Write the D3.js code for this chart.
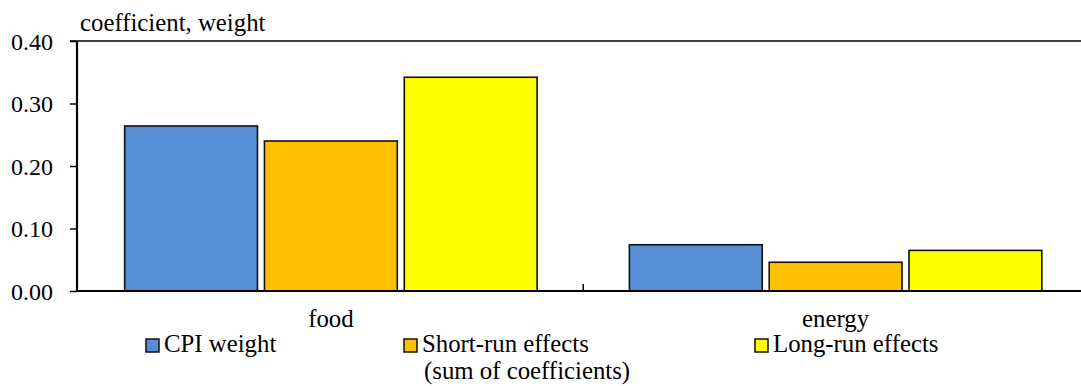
<!DOCTYPE html>
<html><head><meta charset="utf-8">
<script src="https://cdn.jsdelivr.net/npm/d3@7"></script>
<style>body{margin:0;background:#fff}svg{display:block}</style>
</head><body><svg id="c" width="1081" height="386"></svg>
<script>
const categories = ["food", "energy"];
const seriesNames = ["CPI weight", "Short-run effects", "Long-run effects"];
const cpiWeight = [0.264, 0.074];
const shortRun = [0.240, 0.046];
const longRun = [0.342, 0.065];
const yTicks = [0.00, 0.10, 0.20, 0.30, 0.40];
const colors = ["#558ED5", "#FFC000", "#FFFF00"];

const FONT = "'Liberation Serif', 'Times New Roman', serif";
const FS = "24.8px";
const svg = d3.select("#c");
const L = 77, T = 41, B = 291;
const x = d3.scaleBand().domain(categories).range([78.5, 1088]).paddingInner(0).paddingOuter(0);
const y = d3.scaleLinear().domain([0, 0.4]).range([B, T]);
const series = [cpiWeight, shortRun, longRun];
const x1 = d3.scaleBand().domain(d3.range(3)).range([0, x.bandwidth()]).paddingInner(0.05).paddingOuter(0.33);

svg.append("line").attr("x1", 70).attr("x2", 1081).attr("y1", y(0.4)).attr("y2", y(0.4)).attr("stroke", "#000").attr("stroke-width", 1.5);

series.forEach((vals, si) => {
  svg.append("g").selectAll("rect").data(vals).join("rect")
    .attr("x", (d, i) => x(categories[i]) + x1(si))
    .attr("width", x1.bandwidth())
    .attr("y", d => y(d))
    .attr("height", d => y(0) - y(d))
    .attr("fill", colors[si])
    .attr("stroke", "#111").attr("stroke-width", 1.6);
});

const yAxis = d3.axisLeft(y).tickValues(yTicks).tickFormat(d3.format(".2f")).tickSize(7).tickPadding(17);
const ga = svg.append("g").attr("transform", `translate(${L},0)`).call(yAxis);
ga.select(".domain").attr("stroke", "#000").attr("stroke-width", 2.2).attr("d", `M0,${B}V${T}`);
ga.selectAll(".tick line").attr("stroke", "#000").attr("stroke-width", 1.5);
ga.selectAll(".tick text").style("font-family", FONT).style("font-size", "24px").attr("fill", "#000").attr("dy", "0.34em");

const xAxis = d3.axisBottom(x).tickSize(0).tickFormat(() => "");
const gx = svg.append("g").attr("transform", `translate(0,${B})`).call(xAxis);
gx.select(".domain").attr("stroke", "#000").attr("stroke-width", 2).attr("d", `M${L},0H1081`);
svg.append("line").attr("x1", x("energy")).attr("x2", x("energy")).attr("y1", B).attr("y2", B - 7).attr("stroke", "#000").attr("stroke-width", 1.5);

function txt(xp, yp, s, anchor) {
  return svg.append("text").attr("x", xp).attr("y", yp).attr("text-anchor", anchor || "start")
    .style("font-family", FONT).style("font-size", FS).attr("fill", "#000").text(s);
}
categories.forEach(c => txt(x(c) + x.bandwidth() / 2, 327, c, "middle"));
txt(80, 31, "coefficient, weight");

const legX = [146, 404, 755];
seriesNames.forEach((n, i) => {
  svg.append("rect").attr("x", legX[i]).attr("y", 339).attr("width", 13).attr("height", 13)
    .attr("fill", colors[i]).attr("stroke", "#111").attr("stroke-width", 1.5);
  txt(legX[i] + 18, 352, n);
});
txt(424, 379, "(sum of coefficients)");
</script></body></html>
